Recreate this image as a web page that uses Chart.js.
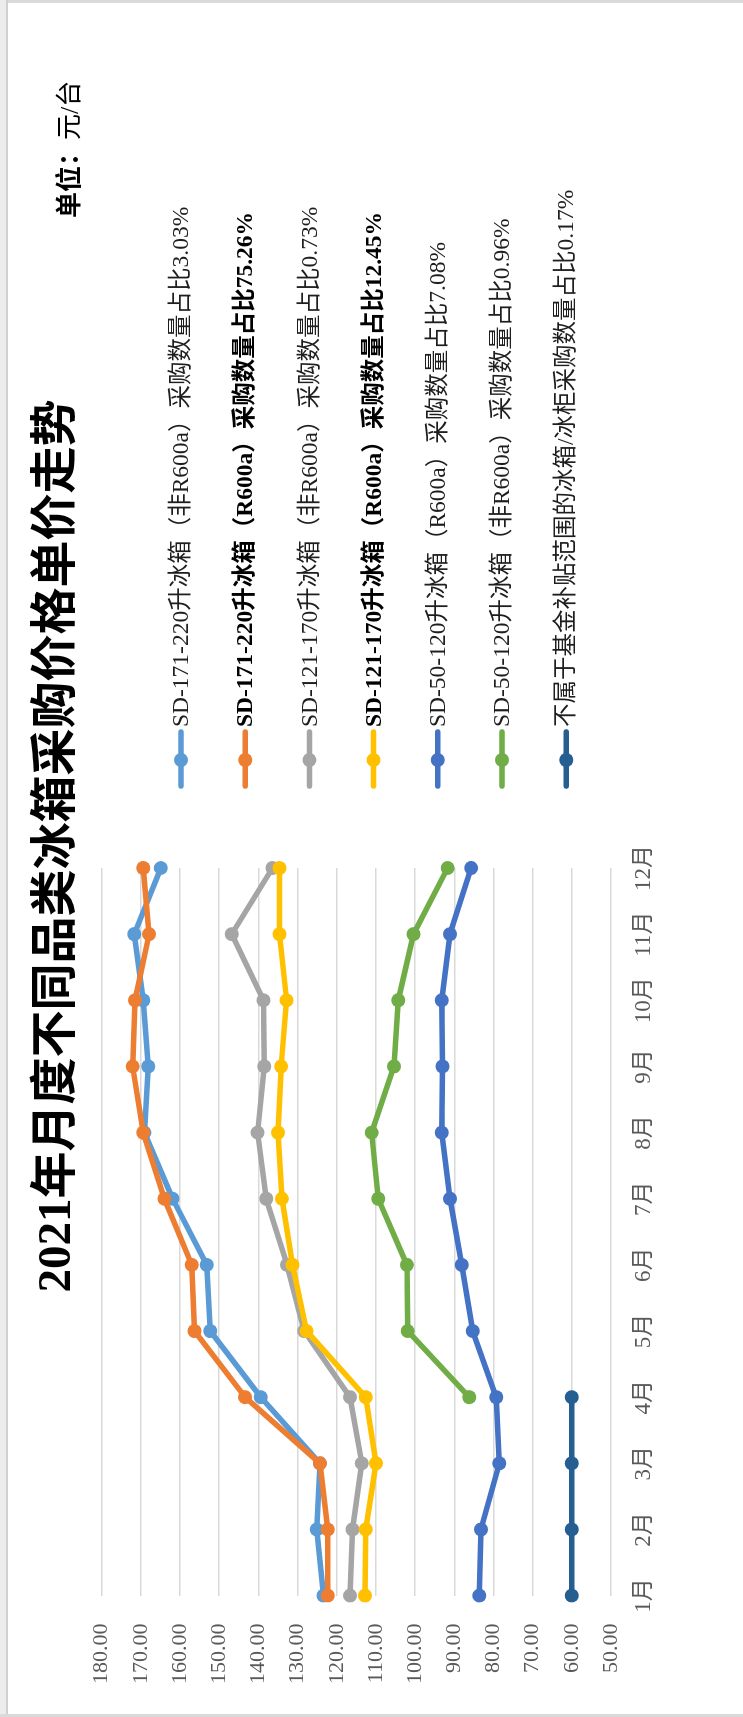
<!DOCTYPE html>
<html>
<head>
<meta charset="utf-8">
<script src="https://cdn.jsdelivr.net/npm/chart.js@4.4.0/dist/chart.umd.min.js"></script>
<style>
  html, body { margin: 0; padding: 0; background: #fff; }
  #page { position: relative; width: 743px; height: 1717px; overflow: hidden; background: #fff; }
  .edge { position: absolute; background: #dadada; }
  #wrap {
    position: absolute; left: 0; top: 0; width: 1717px; height: 743px;
    transform-origin: 0 0;
    transform: translate(0, 1717px) rotate(-90deg);
  }
</style>
</head>
<body>
<div id="page">
  <div class="edge" style="left:0;top:0;width:743px;height:3px;"></div>
  <div class="edge" style="left:0;top:0;width:6px;height:1717px;background:#ececec;"></div>
  <div class="edge" style="left:6px;top:0;width:2px;height:1717px;background:#d0d0d0;"></div>
  <div class="edge" style="left:0;top:1714px;width:743px;height:3px;"></div>
  <div id="wrap"><canvas id="chart" width="1717" height="743"></canvas></div>
</div>
<script>
// =============================
// DATA
// =============================
const months = ["1月", "2月", "3月", "4月", "5月", "6月", "7月", "8月", "9月", "10月", "11月", "12月"];

const seriesNames = [
  "SD-171-220升冰箱（非R600a）采购数量占比3.03%",
  "SD-171-220升冰箱（R600a）采购数量占比75.26%",
  "SD-121-170升冰箱（非R600a）采购数量占比0.73%",
  "SD-121-170升冰箱（R600a）采购数量占比12.45%",
  "SD-50-120升冰箱（R600a）采购数量占比7.08%",
  "SD-50-120升冰箱（非R600a）采购数量占比0.96%",
  "不属于基金补贴范围的冰箱/冰柜采购数量占比0.17%"
];

const sd171Non = [123.4, 125.1, 124.3, 139.4, 152.3, 153.2, 161.9, 169.1, 168.1, 169.4, 171.7, 164.9];
const sd171R600 = [122.3, 122.3, 124.3, 143.4, 156.3, 157.0, 164.0, 169.4, 172.1, 171.5, 167.9, 169.4];
const sd121Non = [116.6, 116.0, 113.6, 116.6, 128.3, 132.7, 138.0, 140.2, 138.5, 138.7, 146.8, 136.4];
const sd121R600 = [112.8, 112.6, 110.0, 112.6, 127.7, 131.3, 134.0, 135.0, 134.2, 132.8, 134.6, 134.6];
const sd50R600 = [83.6, 83.2, 78.5, 79.3, 85.3, 88.1, 91.1, 93.2, 93.0, 93.2, 91.1, 85.7];
const sd50Non = [null, null, null, 86.2, 101.9, 102.1, 109.4, 111.1, 105.4, 104.3, 100.4, 91.7];
const outOfScope = [60, 60, 60, 60, null, null, null, null, null, null, null, null];

const seriesColors = ["#5B9BD5", "#ED7D31", "#A5A5A5", "#FFC000", "#4472C4", "#70AD47", "#255E91"];
const boldRows = [1, 3];

const titleText = "2021年月度不同品类冰箱采购价格单价走势";
const unitLabel = ["单位：", "元/台"];

const yMin = 50, yMax = 180, yStep = 10;

// =============================
// CHART
// =============================
const SERIF = '"Liberation Serif", "Noto Sans CJK SC", serif';
const allSeries = [sd171Non, sd171R600, sd121Non, sd121R600, sd50R600, sd50Non, outOfScope];

const datasets = allSeries.map((values, i) => ({
  label: seriesNames[i],
  data: values,
  borderColor: seriesColors[i],
  backgroundColor: seriesColors[i],
  borderWidth: 5.5,
  pointRadius: 7,
  pointHoverRadius: 7,
  pointBorderWidth: 0,
  borderJoinStyle: "round",
  borderCapStyle: "round",
  tension: 0,
  spanGaps: false,
  order: allSeries.length - i  // later series on top, like Excel
}));

// title, unit and legend drawn by hand (legend has bold rows)
const decor = {
  id: "decor",
  afterDraw(chart) {
    const ctx = chart.ctx;
    ctx.save();
    ctx.textBaseline = "middle";

    ctx.fillStyle = "#000";
    ctx.font = "bold 47px " + SERIF;
    ctx.textAlign = "center";
    ctx.fillText(titleText, 871, 58);

    ctx.textAlign = "left";
    let ux = 1499;
    ctx.font = "bold 26px " + SERIF;
    ctx.fillText(unitLabel[0], ux, 71);
    ux += ctx.measureText(unitLabel[0]).width;
    ctx.font = "26px " + SERIF;
    ctx.fillText(unitLabel[1], ux, 71);

    chart.data.datasets.forEach((ds, i) => {
      const y = 181 + i * 64.2;
      ctx.strokeStyle = ds.borderColor;
      ctx.lineWidth = 5.5;
      ctx.lineCap = "round";
      ctx.beginPath();
      ctx.moveTo(931, y);
      ctx.lineTo(985, y);
      ctx.stroke();
      ctx.fillStyle = ds.borderColor;
      ctx.beginPath();
      ctx.arc(957, y, 7, 0, Math.PI * 2);
      ctx.fill();

      const bold = boldRows.includes(i);
      ctx.font = (bold ? "bold " : "") + "23.5px " + SERIF;
      ctx.fillStyle = bold ? "#000" : "#1e1e1e";
      ctx.fillText(ds.label, 990, y + 1);
    });
    ctx.restore();
  }
};

new Chart(document.getElementById("chart"), {
  type: "line",
  data: { labels: months, datasets },
  plugins: [decor],
  options: {
    responsive: false,
    animation: false,
    layout: { padding: { top: 101.7, right: 868, bottom: 0, left: 0 } },
    plugins: {
      legend: { display: false },
      title: { display: false },
      tooltip: { enabled: false }
    },
    scales: {
      x: {
        grid: { display: false, drawTicks: false },
        border: { display: false },
        ticks: {
          color: "#595959",
          padding: 19,
          maxRotation: 0,
          font: { family: SERIF, size: 23 }
        },
        afterFit: s => { s.height = 132; }
      },
      y: {
        min: yMin,
        max: yMax,
        grid: { color: "#d9d9d9", lineWidth: 1.5, drawTicks: false },
        border: { display: false },
        ticks: {
          stepSize: yStep,
          color: "#595959",
          padding: 28,
          font: { family: SERIF, size: 22 },
          callback: v => Number(v).toFixed(2)
        },
        afterFit: s => { s.width = 121.4; }
      }
    }
  }
});
</script>
</body>
</html>
